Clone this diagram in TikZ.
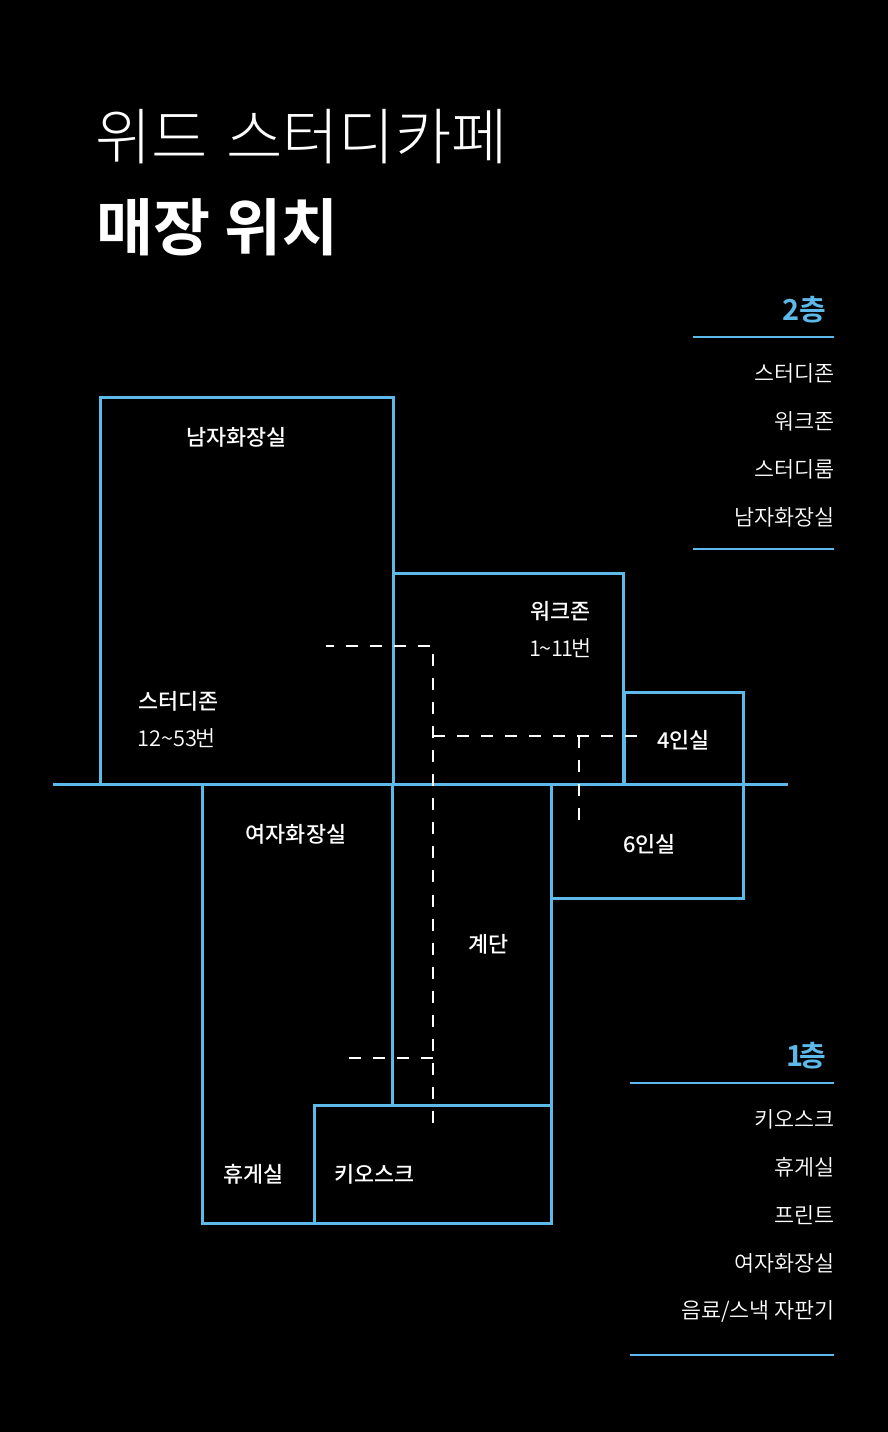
\documentclass[tikz,border=0pt]{standalone}
\usepackage{fontspec}
\usepackage{tikz}
\usetikzlibrary{positioning}
\usetikzlibrary{calc}
\setmainfont{Noto Sans CJK KR}
\newfontfamily\krlight{Noto Sans CJK KR Light}
\newfontfamily\krdemi{Noto Sans CJK KR DemiLight}
\newfontfamily\krmed{Noto Sans CJK KR Medium}
\newfontfamily\krbold{Noto Sans CJK KR Bold}
\definecolor{skyline}{HTML}{5CB9E9}
\tikzset{
  wall/.style={draw=skyline, line width=3pt, line join=miter},
  rule/.style={draw=skyline, line width=2pt},
  route/.style={draw=white, line width=2pt, dash pattern=on 12pt off 12pt},
  roomlabel/.style={text=white, inner sep=0pt, font=\krmed\fontsize{21.8}{24}\selectfont},
  numlabel/.style={text=white, inner sep=0pt, anchor=west, font=\krdemi\fontsize{21.8}{24}\selectfont},
  listlabel/.style={text=white, inner sep=0pt, anchor=east, font=\krdemi\fontsize{21.8}{24}\selectfont},
  floorlabel/.style={text=skyline, inner sep=0pt, anchor=east, font=\krbold\fontsize{29}{30}\selectfont},
}
\begin{document}
\begin{tikzpicture}[x=1pt,y=-1pt]
\fill[black] (0,0) rectangle (888,1432);
\useasboundingbox (0,0) rectangle (888,1432);
% title
\node[text=white, inner sep=0pt, anchor=west, font=\krlight\fontsize{61.2}{66}\selectfont] (title1) at (95,137) {위드\kern5pt{} 스터디카페};
\node[text=white, inner sep=0pt, anchor=west, font=\krbold\fontsize{62}{66}\selectfont] (title2) at (96,227) {매장 위치};
% walls
\draw[wall] (53,784) -- (788,784);
\draw[wall] (100,784) -- (100,397) -- (393.5,397) -- (393.5,784);
\draw[wall] (393.5,573) -- (623,573) -- (623,784);
\draw[wall] (624,692) -- (743.5,692) -- (743.5,898.5) -- (551,898.5);
\draw[wall] (624,692) -- (624,784);
\draw[wall] (551,784) -- (551,1223) -- (202,1223) -- (202,784);
\draw[wall] (392,784) -- (392,1105);
\draw[wall] (314,1223) -- (314,1105) -- (551,1105);
% routes
\draw[route] (430,646) -- (326,646);
\draw[route, dash pattern=on 12pt off 12.05pt] (433,654) -- (433,1124);
\draw[route] (433,736) -- (638,736);
\draw[route] (579,736) -- (579,820);
\draw[route] (349,1058) -- (433,1058);
% rooms
\node[roomlabel] (men) at (236.5,437) {남자화장실};
\node[roomlabel, anchor=west] (study) at (138,701) {스터디존};
\node[numlabel] (studyno) at (137,738) {12\textasciitilde53\kern-2pt번};
\node[roomlabel, anchor=west] (work) at (530,611) {워크존};
\node[numlabel] (workno) at (529,648) {1\kern-2pt\textasciitilde1\kern-2pt1\kern-2pt번};
\node[roomlabel] (four) at (683.5,740) {4인실};
\node[roomlabel] (six) at (649.5,844) {6인실};
\node[roomlabel] (women) at (296,834) {여자화장실};
\node[roomlabel] (stairs) at (488.5,944) {계단};
\node[roomlabel] (lounge) at (253.5,1174) {휴게실};
\node[roomlabel, anchor=west] (kiosk) at (334,1174) {키오스크};
% second floor list
\node[floorlabel] (second) at (826,310) {2층};
\draw[rule] (693,337) -- (834,337);
\node[listlabel] (a1) at (835,373) {스터디존};
\node[listlabel] (a2) at (835,421) {워크존};
\node[listlabel] (a3) at (835,469) {스터디룸};
\node[listlabel] (a4) at (835,517) {남자화장실};
\draw[rule] (693,549) -- (834,549);
% first floor list
\node[floorlabel] (first) at (826,1056) {1\kern-4pt층};
\draw[rule] (630,1083) -- (834,1083);
\node[listlabel] (b1) at (835,1119) {키오스크};
\node[listlabel] (b2) at (835,1167) {휴게실};
\node[listlabel] (b3) at (835,1215) {프린트};
\node[listlabel] (b4) at (835,1263) {여자화장실};
\node[listlabel] (b5) at (835,1311) {음료/스낵 자판기};
\draw[rule] (630,1355) -- (834,1355);
\end{tikzpicture}
\end{document}
